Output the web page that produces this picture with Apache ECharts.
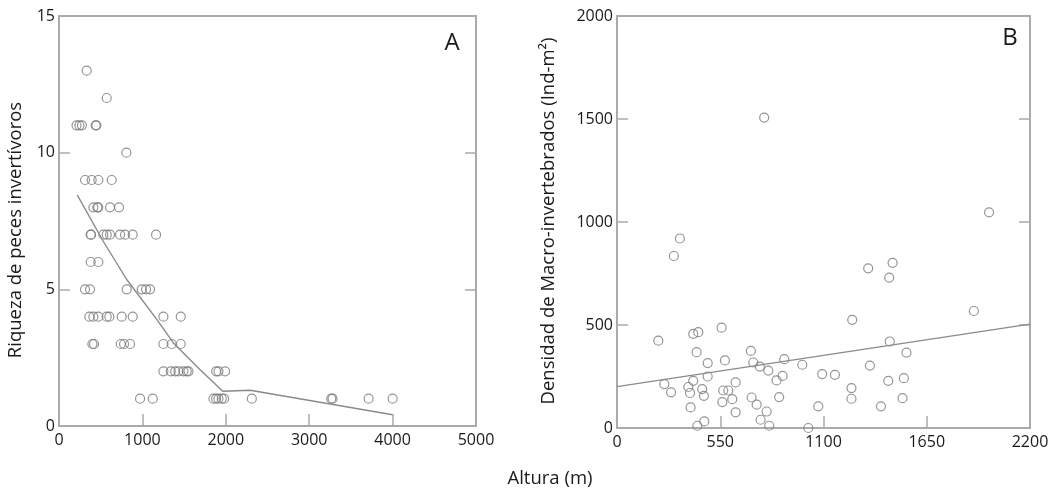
<!DOCTYPE html>
<html><head><meta charset="utf-8">
<script src="https://cdn.jsdelivr.net/npm/echarts@6/dist/echarts.min.js"></script>
<style>html,body{margin:0;padding:0;background:#fff}#c{width:1056px;height:491px}</style>
</head><body><div id="c"></div>
<script>
// Panel A: altitude (m) vs richness of invertivorous fish
const altA = [332,572,210,245,275,440,448,808,312,392,472,632,412,460,470,612,720,
  380,385,532,572,612,732,792,884,1164,380,472,312,372,812,992,1044,1092,
  364,412,472,572,604,752,884,1252,1460,400,420,740,780,852,1252,1352,1460,
  1252,1340,1392,1432,1492,1532,1552,1884,1912,1992,
  972,1124,1852,1884,1912,1952,1980,2312,3264,3280,3712,4000];
const riqA = [13,12,11,11,11,11,11,10,9,9,9,9,8,8,8,8,8,
  7,7,7,7,7,7,7,7,7,6,6,5,5,5,5,5,5,
  4,4,4,4,4,4,4,4,4,3,3,3,3,3,3,3,3,
  2,2,2,2,2,2,2,2,2,2,
  1,1,1,1,1,1,1,1,1,1,1,1];
const fitAx = [220,532,812,1172,1372,1692,1964,2292,4000];
const fitAy = [8.45,6.75,5.36,3.9,3.04,2.06,1.27,1.31,0.41];
// Panel B: altitude (m) vs macro-invertebrate density
const altB = [784,335,303,220,406,433,557,424,483,575,713,726,761,806,891,882,850,987,1093,
  252,288,380,389,406,483,454,463,566,593,561,614,632,632,392,717,744,797,864,765,811,465,428,1019,1072,
  1982,1338,1468,1450,1253,1901,1453,1542,1347,1161,1249,1249,1445,1528,1521,1406];
const densB = [1507,920,835,424,457,465,487,368,315,328,374,318,298,279,334,253,231,307,262,
  213,173,199,170,229,250,189,156,182,182,126,140,221,76,100,148,113,80,150,40,11,32,11,0,105,
  1047,775,802,730,525,568,420,366,303,258,194,142,229,242,145,105];
const fitBx = [0,2200];
const fitBy = [201,504];

const FONT = 'Open Sans';
const axCol = '#aaaaaa';
const txt = '#1a1a1a';
const zip = (a,b)=>a.map((v,i)=>[v,b[i]]);

function xAx(gi, max, interval, pos){
  return {gridIndex:gi, type:'value', min:0, max:max, interval:interval, position:pos,
    axisLine:{show:true, onZero:false, lineStyle:{color:axCol, width:2}},
    axisTick:{show:pos==='bottom', inside:true, length:12, lineStyle:{color:axCol, width:1.5}},
    axisLabel:{show:pos==='bottom', color:txt, fontFamily:FONT, fontSize:16, margin:6,
      formatter:v=>String(v)},
    splitLine:{show:false}};
}
function yAx(gi, max, interval, pos){
  return {gridIndex:gi, type:'value', min:0, max:max, interval:interval, position:pos,
    axisLine:{show:true, onZero:false, lineStyle:{color:axCol, width:2}},
    axisTick:{show:true, inside:true, length:11, lineStyle:{color:axCol, width:1.5}},
    axisLabel:{show:pos==='left', color:txt, fontFamily:FONT, fontSize:16, margin:4,
      formatter:v=>String(v)},
    splitLine:{show:false}};
}
const sym = {symbol:'circle', symbolSize:9, itemStyle:{color:'rgba(0,0,0,0)', borderColor:'#7a7a7a', borderWidth:1.2}};

const chart = echarts.init(document.getElementById('c'), null, {renderer:'canvas'});
chart.setOption({
  animation:false,
  backgroundColor:'#fff',
  grid:[
    {left:59, right:580, top:16, bottom:65},
    {left:617, right:26, top:16, bottom:63}
  ],
  xAxis:[xAx(0,5000,1000,'bottom'), xAx(0,5000,1000,'top'),
         xAx(1,2200,550,'bottom'), xAx(1,2200,550,'top')],
  yAxis:[yAx(0,15,5,'left'), yAx(0,15,5,'right'),
         yAx(1,2000,500,'left'), yAx(1,2000,500,'right')],
  series:[
    Object.assign({type:'scatter', xAxisIndex:0, yAxisIndex:0, data:zip(altA,riqA)}, sym),
    {type:'line', xAxisIndex:0, yAxisIndex:0, data:zip(fitAx,fitAy), symbol:'none',
      lineStyle:{color:'#8a8a8a', width:1.4}},
    Object.assign({type:'scatter', xAxisIndex:2, yAxisIndex:2, data:zip(altB,densB)}, sym),
    {type:'line', xAxisIndex:2, yAxisIndex:2, data:zip(fitBx,fitBy), symbol:'none',
      lineStyle:{color:'#8a8a8a', width:1.4}}
  ],
  graphic:[
    {type:'text', x:452, y:43, style:{text:'A', fontFamily:FONT, fontSize:24, fill:txt, align:'center', verticalAlign:'middle'}},
    {type:'text', x:1010, y:38, style:{text:'B', fontFamily:FONT, fontSize:24, fill:txt, align:'center', verticalAlign:'middle'}},
    {type:'text', x:550, y:479, style:{text:'Altura (m)', fontFamily:FONT, fontSize:18.5, fill:txt, align:'center', verticalAlign:'middle'}},
    {type:'text', x:16, y:230, rotation:Math.PI/2, style:{text:'Riqueza de peces invertívoros', fontFamily:FONT, fontSize:18.5, fill:txt, align:'center', verticalAlign:'middle'}},
    {type:'text', x:549, y:221, rotation:Math.PI/2, style:{text:'Densidad de Macro-invertebrados (Ind-m²)', fontFamily:FONT, fontSize:18.5, fill:txt, align:'center', verticalAlign:'middle'}}
  ]
});
</script></body></html>
